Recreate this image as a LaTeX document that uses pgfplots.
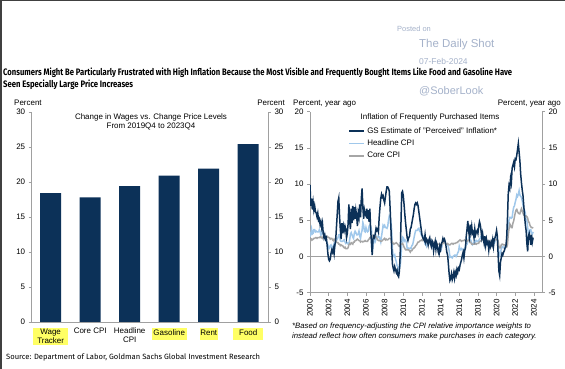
\documentclass[border=0pt]{standalone}
\usepackage{pgfplots}
\pgfplotsset{compat=1.18}
\usepackage{pgfplotstable}
\usepackage{fontspec}
\setmainfont{Liberation Sans}
\newfontfamily\titlefont{Fira Sans}
\definecolor{navy}{RGB}{12,49,88}
\definecolor{lightb}{RGB}{160,200,235}
\definecolor{coreg}{RGB}{166,166,166}
\definecolor{axisg}{RGB}{160,160,160}
\definecolor{hlyellow}{RGB}{255,255,100}
\definecolor{wm}{RGB}{165,178,202}
\pgfplotstableread{
y m cpi core gs
2000 1 2.7 2.0 9.9
2000 2 3.2 2.2 7.0
2000 3 3.8 2.4 8.0
2000 4 3.1 2.3 6.5
2000 5 3.2 2.4 7.5
2000 6 3.7 2.5 6.4
2000 7 3.7 2.5 7.0
2000 8 3.4 2.6 6.2
2000 9 3.5 2.6 6.0
2000 10 3.4 2.5 5.5
2000 11 3.4 2.6 6.0
2000 12 3.4 2.6 5.0
2001 1 3.7 2.6 5.2
2001 2 3.5 2.7 4.4
2001 3 2.9 2.7 4.8
2001 4 3.3 2.6 4.0
2001 5 3.6 2.5 4.6
2001 6 3.2 2.7 3.2
2001 7 2.7 2.7 2.6
2001 8 2.7 2.7 3.0
2001 9 2.6 2.6 2.4
2001 10 2.1 2.6 2.6
2001 11 1.9 2.8 1.6
2001 12 1.6 2.7 0.4
2002 1 1.1 2.6 -0.4
2002 2 1.1 2.6 -0.6
2002 3 1.5 2.4 -0.4
2002 4 1.6 2.5 0.4
2002 5 1.2 2.5 0.9
2002 6 1.1 2.3 0.6
2002 7 1.5 2.2 1.1
2002 8 1.8 2.4 0.4
2002 9 1.5 2.2 1.6
2002 10 2.0 2.2 2.2
2002 11 2.2 2.0 4.0
2002 12 2.4 1.9 5.8
2003 1 2.6 1.9 7.6
2003 2 3.0 1.7 8.1
2003 3 3.0 1.7 5.6
2003 4 2.2 1.5 3.8
2003 5 2.1 1.6 2.4
2003 6 2.1 1.5 4.6
2003 7 2.1 1.5 3.2
2003 8 2.2 1.3 4.2
2003 9 2.3 1.2 3.6
2003 10 2.0 1.3 4.2
2003 11 1.8 1.1 3.8
2003 12 1.9 1.1 2.6
2004 1 1.9 1.1 3.2
2004 2 1.7 1.2 4.5
2004 3 1.7 1.6 7.2
2004 4 2.3 1.8 5.0
2004 5 3.1 1.7 3.8
2004 6 3.3 1.9 6.6
2004 7 3.0 1.8 4.6
2004 8 2.7 1.7 7.0
2004 9 2.5 2.0 5.0
2004 10 3.2 2.0 6.8
2004 11 3.5 2.2 5.2
2004 12 3.3 2.2 6.4
2005 1 3.0 2.3 5.6
2005 2 3.0 2.4 4.2
2005 3 3.1 2.3 6.0
2005 4 3.5 2.2 5.4
2005 5 2.8 2.2 7.2
2005 6 2.5 2.0 5.4
2005 7 3.2 2.1 8.0
2005 8 3.6 2.1 9.4
2005 9 4.7 2.0 6.8
2005 10 4.3 2.1 5.2
2005 11 3.5 2.1 6.4
2005 12 3.4 2.2 5.8
2006 1 4.0 2.1 5.6
2006 2 3.6 2.1 6.6
2006 3 3.4 2.1 5.2
2006 4 3.5 2.3 6.4
2006 5 4.2 2.4 4.8
2006 6 4.3 2.6 6.6
2006 7 4.1 2.7 3.8
2006 8 3.8 2.8 2.0
2006 9 2.1 2.9 0.2
2006 10 1.3 2.7 2.4
2006 11 2.0 2.6 2.8
2006 12 2.5 2.6 2.6
2007 1 2.1 2.7 3.2
2007 2 2.4 2.7 3.9
2007 3 2.8 2.5 3.6
2007 4 2.6 2.3 3.8
2007 5 2.7 2.2 3.4
2007 6 2.7 2.2 5.4
2007 7 2.4 2.2 6.8
2007 8 2.0 2.1 8.0
2007 9 2.8 2.1 8.6
2007 10 3.5 2.2 8.2
2007 11 4.3 2.3 8.4
2007 12 4.1 2.4 7.8
2008 1 4.3 2.5 7.4
2008 2 4.0 2.3 8.2
2008 3 4.0 2.4 9.0
2008 4 3.9 2.3 9.6
2008 5 4.2 2.3 9.6
2008 6 5.0 2.4 9.4
2008 7 5.6 2.5 9.0
2008 8 5.4 2.5 6.8
2008 9 4.9 2.5 4.2
2008 10 3.7 2.2 1.4
2008 11 1.1 2.0 -1.0
2008 12 0.1 1.8 -1.6
2009 1 0.0 1.7 -2.0
2009 2 0.2 1.8 -1.4
2009 3 -0.4 1.8 -1.8
2009 4 -0.7 1.9 -2.2
2009 5 -1.3 1.8 -1.9
2009 6 -1.4 1.7 -2.6
2009 7 -2.1 1.5 -2.8
2009 8 -1.5 1.4 -2.0
2009 9 -1.3 1.5 0.2
2009 10 -0.2 1.7 4.5
2009 11 1.8 1.7 8.8
2009 12 2.7 1.8 9.0
2010 1 2.6 1.6 8.4
2010 2 2.1 1.3 7.2
2010 3 2.3 1.1 5.8
2010 4 2.2 0.9 4.6
2010 5 2.0 0.9 3.6
2010 6 1.1 0.9 2.6
2010 7 1.2 0.9 2.2
2010 8 1.1 0.9 2.6
2010 9 1.1 0.8 2.8
2010 10 1.2 0.6 3.8
2010 11 1.1 0.8 4.0
2010 12 1.5 0.8 4.6
2011 1 1.6 1.0 5.2
2011 2 2.1 1.1 5.8
2011 3 2.7 1.2 6.6
2011 4 3.2 1.3 7.2
2011 5 3.6 1.5 7.4
2011 6 3.6 1.6 7.2
2011 7 3.6 1.8 7.4
2011 8 3.8 2.0 7.0
2011 9 3.9 2.0 6.2
2011 10 3.5 2.1 5.4
2011 11 3.4 2.2 4.6
2011 12 3.0 2.2 3.8
2012 1 2.9 2.3 3.0
2012 2 2.9 2.2 2.6
2012 3 2.7 2.3 2.4
2012 4 2.3 2.3 2.2
2012 5 1.7 2.3 3.0
2012 6 1.7 2.2 2.0
2012 7 1.4 2.1 2.4
2012 8 1.7 1.9 2.2
2012 9 2.0 2.0 1.6
2012 10 2.2 2.0 2.3
2012 11 1.8 1.9 2.6
2012 12 1.7 1.9 1.8
2013 1 1.6 1.9 1.4
2013 2 2.0 2.0 2.2
2013 3 1.5 1.9 2.0
2013 4 1.1 1.7 0.8
2013 5 1.4 1.7 1.6
2013 6 1.8 1.6 2.1
2013 7 2.0 1.7 1.0
2013 8 1.5 1.8 1.8
2013 9 1.2 1.7 1.4
2013 10 1.0 1.7 0.6
2013 11 1.2 1.7 0.3
2013 12 1.5 1.7 1.4
2014 1 1.6 1.6 1.0
2014 2 1.1 1.6 1.8
2014 3 1.5 1.7 2.0
2014 4 2.0 1.8 2.5
2014 5 2.1 2.0 2.2
2014 6 2.1 1.9 2.4
2014 7 2.0 1.9 2.0
2014 8 1.7 1.7 1.4
2014 9 1.7 1.7 0.6
2014 10 1.7 1.8 0.2
2014 11 1.3 1.7 -1.0
2014 12 0.8 1.6 -2.4
2015 1 -0.1 1.6 -3.3
2015 2 0.0 1.7 -3.0
2015 3 -0.1 1.8 -2.4
2015 4 -0.2 1.8 -3.2
2015 5 0.0 1.7 -2.8
2015 6 0.1 1.8 -2.2
2015 7 0.2 1.8 -3.0
2015 8 0.2 1.8 -2.2
2015 9 0.0 1.9 -2.6
2015 10 0.2 1.9 -1.8
2015 11 0.5 2.0 -2.2
2015 12 0.7 2.1 -1.6
2016 1 1.4 2.2 -1.8
2016 2 1.0 2.3 -1.2
2016 3 0.9 2.2 -0.8
2016 4 1.1 2.1 -0.4
2016 5 1.0 2.2 0.2
2016 6 1.0 2.2 0.6
2016 7 0.8 2.2 -0.2
2016 8 1.1 2.3 0.8
2016 9 1.5 2.2 1.2
2016 10 1.6 2.1 2.8
2016 11 1.7 2.1 3.8
2016 12 2.1 2.2 4.9
2017 1 2.5 2.3 3.6
2017 2 2.7 2.2 2.8
2017 3 2.4 2.0 4.4
2017 4 2.2 1.9 3.4
2017 5 1.9 1.7 4.2
2017 6 1.6 1.7 3.2
2017 7 1.7 1.7 3.4
2017 8 1.9 1.7 2.6
2017 9 2.2 1.7 3.8
2017 10 2.0 1.8 3.0
2017 11 2.2 1.7 3.4
2017 12 2.1 1.8 3.6
2018 1 2.1 1.8 3.2
2018 2 2.2 1.8 4.2
2018 3 2.4 2.1 4.8
2018 4 2.5 2.1 4.4
2018 5 2.8 2.2 3.6
2018 6 2.9 2.3 2.6
2018 7 2.9 2.4 3.2
2018 8 2.7 2.2 2.4
2018 9 2.3 2.2 1.8
2018 10 2.5 2.1 2.8
2018 11 2.2 2.2 1.6
2018 12 1.9 2.2 2.4
2019 1 1.6 2.2 1.8
2019 2 1.5 2.1 2.0
2019 3 1.9 2.0 0.9
2019 4 2.0 2.1 1.8
2019 5 1.8 2.0 1.4
2019 6 1.6 2.1 2.0
2019 7 1.8 2.2 1.6
2019 8 1.7 2.4 2.3
2019 9 1.7 2.4 1.4
2019 10 1.8 2.3 2.4
2019 11 2.1 2.3 2.6
2019 12 2.3 2.3 3.0
2020 1 2.5 2.3 3.6
2020 2 2.3 2.4 2.8
2020 3 1.5 2.1 0.2
2020 4 0.3 1.4 -2.0
2020 5 0.1 1.2 -2.6
2020 6 0.6 1.2 -0.8
2020 7 1.0 1.6 -0.2
2020 8 1.3 1.7 0.4
2020 9 1.4 1.7 0.2
2020 10 1.2 1.6 0.6
2020 11 1.2 1.6 0.8
2020 12 1.4 1.6 1.2
2021 1 1.4 1.4 1.4
2021 2 1.7 1.3 2.6
2021 3 2.6 1.6 5.2
2021 4 4.2 3.0 8.6
2021 5 5.0 3.8 9.8
2021 6 5.4 4.5 9.4
2021 7 5.4 4.3 10.8
2021 8 5.3 4.0 10.2
2021 9 5.4 4.0 12.2
2021 10 6.2 4.6 12.6
2021 11 6.8 4.9 13.0
2021 12 7.0 5.5 12.4
2022 1 7.5 6.0 13.5
2022 2 7.9 6.4 13.4
2022 3 8.5 6.5 14.0
2022 4 8.3 6.2 14.8
2022 5 8.6 6.0 15.6
2022 6 9.1 5.9 14.4
2022 7 8.5 5.9 13.2
2022 8 8.3 6.3 11.4
2022 9 8.2 6.6 10.2
2022 10 7.7 6.3 9.2
2022 11 7.1 6.0 8.4
2022 12 6.5 5.7 7.0
2023 1 6.4 5.6 5.6
2023 2 6.0 5.5 4.4
2023 3 5.0 5.6 3.6
2023 4 4.9 5.5 1.8
2023 5 4.0 5.3 0.7
2023 6 3.0 4.8 2.8
2023 7 3.2 4.7 3.2
2023 8 3.7 4.3 2.6
2023 9 3.7 4.1 1.6
2023 10 3.2 4.0 3.0
2023 11 3.1 4.0 2.0
2023 12 3.4 3.9 2.6
}\infl
\pgfplotsset{
  every axis/.append style={
    font=\fontsize{8}{9.6}\selectfont,
    /pgf/number format/assume math mode=true,
    axis line style={axisg, line width=0.7bp},
    tick style={axisg, line width=0.7bp},
    major tick length=3bp,
    tick align=outside,
    scale only axis,
  }
}
\newcommand\hl[2]{{\setlength{\fboxsep}{1.2bp}\colorbox{hlyellow}{\makebox[#1]{\strut #2}}}}
\begin{document}
\begin{tikzpicture}
\useasboundingbox (0,0) rectangle (565bp,369bp);
\fill[white] (0,0) rectangle (565bp,369bp);
\draw[black!75, line width=1.5bp] (0.75bp,0) -- (0.75bp,368.25bp) -- (565bp,368.25bp);
% watermark
\node[anchor=base west, inner sep=0, text=wm, font=\fontsize{7.5}{9}\selectfont] at (397bp,337.5bp) {Posted on};
\node[anchor=base west, inner sep=0, text=wm, font=\fontsize{11.5}{13}\selectfont] at (419bp,321bp) {The Daily Shot};
\node[anchor=base west, inner sep=0, text=wm, font=\fontsize{8.5}{10}\selectfont] at (419bp,304bp) {07-Feb-2024};
\node[anchor=base west, inner sep=0, text=wm, font=\fontsize{11}{13}\selectfont] at (419bp,274bp) {@SoberLook};
% title
\node[anchor=base west, inner sep=0] at (3bp,293.5bp) {\resizebox{509bp}{7.6bp}{\titlefont\bfseries Consumers Might Be Particularly Frustrated with High Inflation Because the Most Visible and Frequently Bought Items Like Food and Gasoline Have}};
\node[anchor=base west, inner sep=0] at (3bp,281bp) {\resizebox{130bp}{7.6bp}{\titlefont\bfseries Seen Especially Large Price Increases}};
% source
\node[anchor=base west, inner sep=0] at (6bp,9bp) {\resizebox{254bp}{!}{\titlefont Source: Department of Labor, Goldman Sachs Global Investment Research}};
% ---------- left panel ----------
\begin{axis}[
  at={(31.7bp,47bp)}, anchor=south west,
  width=236.3bp, height=210bp,
  xmin=-0.48, xmax=5.5, ymin=0, ymax=30,
  ytick={0,5,...,30},
  axis x line*=bottom, axis y line*=left,
  xtick={0,...,5},
  xticklabels={
    {{\setlength{\fboxsep}{1.2bp}\colorbox{hlyellow}{\parbox{33bp}{\centering Wage\\Tracker}}}},
    {Core CPI},
    {\shortstack{Headline\\CPI}},
    {\hl{33bp}{Gasoline}},
    {\hl{16bp}{Rent}},
    {\hl{28bp}{Food}}},
  xticklabel style={anchor=north, inner sep=1bp, yshift=-1.5bp, align=center},
  x tick style={draw=none},
]
\addplot[ybar, bar width=21bp, fill=navy, draw=none] coordinates {(0,18.4) (1,17.8) (2,19.4) (3,20.9) (4,21.9) (5,25.4)};
\end{axis}
\begin{axis}[
  at={(31.7bp,47bp)}, anchor=south west,
  width=236.3bp, height=210bp,
  xmin=-0.48, xmax=5.5, ymin=0, ymax=30,
  ytick={0,5,...,30},
  axis y line*=right, axis x line=none,
]
\addplot[draw=none, forget plot] coordinates {(0,0)};
\end{axis}
\node[anchor=base west, inner sep=0, font=\fontsize{8}{9.6}\selectfont] at (14bp,263.5bp) {Percent};
\node[anchor=base east, inner sep=0, font=\fontsize{8}{9.6}\selectfont] at (285bp,263.5bp) {Percent};
\node[anchor=base, inner sep=0, font=\fontsize{8}{9.6}\selectfont] at (151bp,249.7bp) {Change  in Wages vs. Change  Price Levels};
\node[anchor=base, inner sep=0, font=\fontsize{8}{9.6}\selectfont] at (151bp,240bp) {From 2019Q4  to 2023Q4};
% ---------- right panel ----------
\begin{axis}[
  at={(310bp,76.3bp)}, anchor=south west,
  width=232bp, height=181bp,
  xmin=2000, xmax=2024.87, ymin=-5, ymax=20,
  ytick={-5,0,...,20},
  xtick={2000,2002,...,2024},
  x tick label style={rotate=90, anchor=east, /pgf/number format/1000 sep={}},
  axis x line*=bottom, axis y line*=left,
  legend style={draw=none, fill=none, at={(0.165,0.925)}, anchor=north west,
    font=\fontsize{8}{9.6}\selectfont, row sep=1.2bp, inner sep=0pt},
  legend cell align=left,
  legend image code/.code={\draw[#1] (0bp,0bp) -- (15bp,0bp);},
]
\addlegendimage{navy, line width=1.8bp}
\addlegendentry{GS Estimate of "Perceived" Inflation*}
\addlegendimage{lightb, line width=1.8bp}
\addlegendentry{Headline CPI}
\addlegendimage{coreg, line width=1.8bp}
\addlegendentry{Core CPI}
\addplot[axisg, line width=0.8bp, forget plot] coordinates {(2000,0) (2024.87,0)};
\addplot[lightb, line width=1.5bp, forget plot] table[x expr=\thisrow{y}+(\thisrow{m}-1)/12, y=cpi] {\infl};
\addplot[coreg, line width=1.5bp, forget plot] table[x expr=\thisrow{y}+(\thisrow{m}-1)/12, y=core] {\infl};
\addplot[navy, line width=1.5bp, forget plot] table[x expr=\thisrow{y}+(\thisrow{m}-1)/12, y=gs] {\infl};
\end{axis}
\begin{axis}[
  at={(310bp,76.3bp)}, anchor=south west,
  width=232bp, height=181bp,
  xmin=2000, xmax=2024.87, ymin=-5, ymax=20,
  ytick={-5,0,...,20},
  axis y line*=right, axis x line=none,
]
\addplot[draw=none, forget plot] coordinates {(2000,0)};
\end{axis}
\node[anchor=base west, inner sep=0, font=\fontsize{8}{9.6}\selectfont] at (293bp,263.5bp) {Percent, year ago};
\node[anchor=base east, inner sep=0, font=\fontsize{8}{9.6}\selectfont] at (561bp,263.5bp) {Percent, year ago};
\node[anchor=base, inner sep=0, font=\fontsize{8}{9.6}\selectfont] at (430bp,249bp) {Inflation  of Frequently  Purchased Items};
\node[anchor=base west, inner sep=0, font=\itshape\fontsize{7.8}{9.4}\selectfont] at (292bp,40.7bp) {*Based on frequency-adjusting the CPI relative importance weights to};
\node[anchor=base west, inner sep=0, font=\itshape\fontsize{7.8}{9.4}\selectfont] at (292bp,30.7bp) {instead reflect how often consumers make purchases in each category.};
\end{tikzpicture}
\end{document}
